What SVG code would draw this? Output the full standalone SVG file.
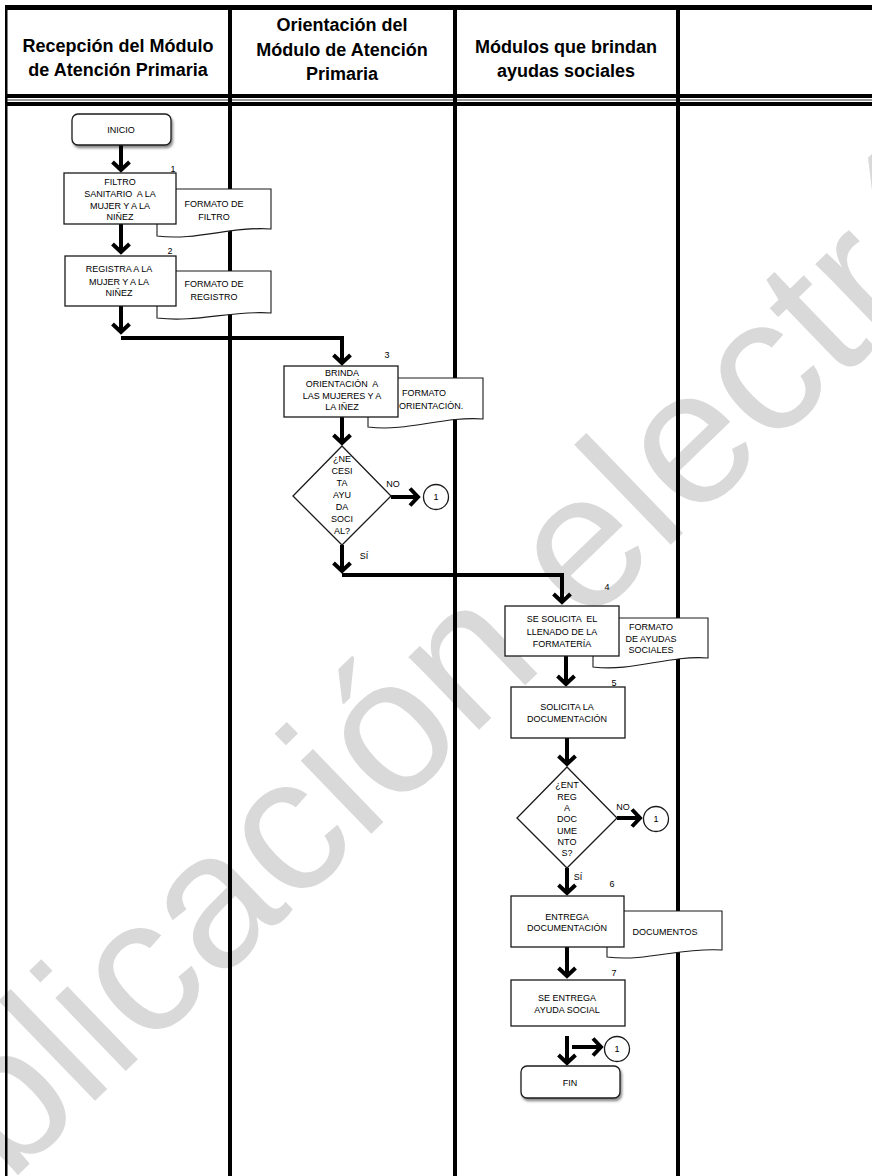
<svg xmlns="http://www.w3.org/2000/svg" width="872" height="1176" viewBox="0 0 872 1176">
<style>
.wm{font-family:"Liberation Sans",Arial,sans-serif;font-size:192px;fill:#d9d9d9}
.hd{font-family:"Liberation Sans",Arial,sans-serif;font-size:18px;font-weight:bold;fill:#000;text-anchor:middle}
.t{font-family:"Liberation Sans",Arial,sans-serif;font-size:9px;fill:#000;text-anchor:middle;white-space:pre}
.n{font-family:"Liberation Sans",Arial,sans-serif;font-size:9px;fill:#000;text-anchor:middle}
.box{fill:#fff;stroke:#1a1a1a;stroke-width:1.3}
.doc{fill:#fff;stroke:#1a1a1a;stroke-width:1.1}
.term{fill:#fff;stroke:#1a1a1a;stroke-width:1.3;filter:url(#sh)}
.arr{fill:none;stroke:#000;stroke-width:4;marker-end:url(#ah)}
.div{fill:#000}
</style>
<defs>
<marker id="ah" markerUnits="userSpaceOnUse" viewBox="-14 -12 18 24" refX="0" refY="0" markerWidth="18" markerHeight="24" orient="auto">
<path d="M-9,-8.5 L-1,0 L-9,8.5" fill="none" stroke="#000" stroke-width="4"/>
</marker>
<filter id="sh" x="-20%" y="-20%" width="140%" height="160%">
<feDropShadow dx="1.5" dy="2.5" stdDeviation="1.2" flood-color="#000" flood-opacity="0.45"/>
</filter>
</defs>
<rect width="872" height="1176" fill="#fff"/>
<text class="wm" x="-160" y="1347" transform="rotate(-44 -160 1347)">Publicación electrónica</text>
<g id="lanes">
<rect class="div" x="5" y="5" width="867" height="5"/>
<rect class="div" x="5" y="94" width="867" height="4"/>
<rect x="5" y="99" width="867" height="2" fill="#9a9a9a"/>
<rect class="div" x="5" y="102" width="867" height="4"/>
<rect class="div" x="5" y="5" width="2.5" height="1171"/>
<rect class="div" x="228" y="5" width="4" height="1171"/>
<rect class="div" x="453" y="5" width="4" height="1171"/>
<rect class="div" x="676" y="5" width="4" height="1171"/>
<text class="hd" x="118" y="52">Recepción del Módulo</text>
<text class="hd" x="118" y="76">de Atención Primaria</text>
<text class="hd" x="342" y="31">Orientación del</text>
<text class="hd" x="342" y="56">Módulo de Atención</text>
<text class="hd" x="342" y="80">Primaria</text>
<text class="hd" x="566" y="53">Módulos que brindan</text>
<text class="hd" x="566" y="77">ayudas sociales</text>
</g>
<g id="connectors">
<line class="arr" x1="121" y1="145" x2="121" y2="171"/>
<line class="arr" x1="121" y1="224" x2="121" y2="253"/>
<line class="arr" x1="121" y1="305" x2="121" y2="333"/>
<polyline class="arr" points="121,338 342,338 342,364"/>
<line class="arr" x1="342" y1="417" x2="342" y2="444"/>
<line class="arr" x1="391" y1="497" x2="419" y2="497"/>
<line class="arr" x1="342" y1="545" x2="342" y2="572"/>
<polyline class="arr" points="342,575 562,575 562,603"/>
<line class="arr" x1="566" y1="656" x2="566" y2="685"/>
<line class="arr" x1="567" y1="738" x2="567" y2="765"/>
<line class="arr" x1="617" y1="818" x2="641" y2="818"/>
<line class="arr" x1="567" y1="868" x2="567" y2="894"/>
<line class="arr" x1="567" y1="947" x2="567" y2="977"/>
<line class="arr" x1="567" y1="1036" x2="567" y2="1064"/>
<line class="arr" x1="572" y1="1047" x2="602" y2="1047"/>
<text class="n" x="393" y="487">NO</text>
<text class="n" x="364" y="559">SÍ</text>
<text class="n" x="623" y="810">NO</text>
<text class="n" x="578" y="880">SÍ</text>
</g>
<g id="inicio">
<rect class="term" x="72" y="114" width="99" height="31" rx="6"/>
<text class="t" x="121" y="133">INICIO</text>
</g>
<g id="doc1">
<path class="doc" d="M157,189 H271 V229 C231,226 197,241 157,236 Z"/>
<text class="t" x="214" y="207">FORMATO DE</text>
<text class="t" x="214" y="220">FILTRO</text>
</g>
<g id="step1">
<rect class="box" x="64" y="173" width="112" height="51"/>
<text class="n" x="173" y="172">1</text>
<text class="t" x="120" y="185">FILTRO</text>
<text class="t" x="120" y="197">SANITARIO  A LA</text>
<text class="t" x="120" y="209">MUJER Y A LA</text>
<text class="t" x="120" y="220">NIÑEZ</text>
</g>
<g id="doc2">
<path class="doc" d="M157,271 H271 V313 C231,310 197,323 157,318 Z"/>
<text class="t" x="214" y="287">FORMATO DE</text>
<text class="t" x="214" y="300">REGISTRO</text>
</g>
<g id="step2">
<rect class="box" x="65" y="256" width="111" height="50"/>
<text class="n" x="170" y="254">2</text>
<text class="t" x="119" y="272">REGISTRA A LA</text>
<text class="t" x="119" y="285">MUJER Y A LA</text>
<text class="t" x="119" y="296">NIÑEZ</text>
</g>
<g id="doc3">
<path class="doc" d="M368,378 H483 V419 C443,416 408,432 368,427 Z"/>
<text class="t" x="424" y="396">FORMATO</text>
<text class="t" x="399" y="409" style="text-anchor:start">ORIENTACIÒN.</text>
</g>
<g id="step3">
<rect class="box" x="284" y="366" width="114" height="51"/>
<text class="n" x="387" y="358">3</text>
<text class="t" x="342" y="376">BRINDA</text>
<text class="t" x="342" y="387">ORIENTACIÓN  A</text>
<text class="t" x="342" y="399">LAS MUJERES Y A</text>
<text class="t" x="342" y="410">LA IÑEZ</text>
</g>
<g id="decision1">
<polygon class="box" points="342,446 391,496 342,545 293,496"/>
<text class="t" x="342" y="462">¿NE</text>
<text class="t" x="342" y="474">CESI</text>
<text class="t" x="342" y="486">TA</text>
<text class="t" x="342" y="498">AYU</text>
<text class="t" x="342" y="510">DA</text>
<text class="t" x="342" y="522">SOCI</text>
<text class="t" x="342" y="534">AL?</text>
</g>
<g id="conn1a">
<circle class="box" cx="436" cy="497" r="12.5"/>
<text class="n" x="436" y="500">1</text>
</g>
<g id="doc4">
<path class="doc" d="M593,618 H708 V658 C668,655 633,672 593,667 Z"/>
<text class="t" x="651" y="630">FORMATO</text>
<text class="t" x="651" y="642">DE AYUDAS</text>
<text class="t" x="651" y="653">SOCIALES</text>
</g>
<g id="step4">
<rect class="box" x="505" y="606" width="114" height="50"/>
<text class="n" x="607" y="590">4</text>
<text class="t" x="562" y="622">SE SOLICITA  EL</text>
<text class="t" x="562" y="635">LLENADO DE LA</text>
<text class="t" x="562" y="647">FORMATERÍA</text>
</g>
<g id="step5">
<rect class="box" x="511" y="687" width="114" height="51"/>
<text class="n" x="614" y="686">5</text>
<text class="t" x="567" y="710">SOLICITA LA</text>
<text class="t" x="567" y="722">DOCUMENTACIÓN</text>
</g>
<g id="decision2">
<polygon class="box" points="567,767 617,818 567,868 517,818"/>
<text class="t" x="567" y="788">¿ENT</text>
<text class="t" x="567" y="800">REG</text>
<text class="t" x="567" y="811">A</text>
<text class="t" x="567" y="822">DOC</text>
<text class="t" x="567" y="834">UME</text>
<text class="t" x="567" y="845">NTO</text>
<text class="t" x="567" y="856">S?</text>
</g>
<g id="conn1b">
<circle class="box" cx="656" cy="819" r="12.5"/>
<text class="n" x="656" y="822">1</text>
</g>
<g id="doc6">
<path class="doc" d="M607,911 H722 V950 C682,947 647,962 607,957 Z"/>
<text class="t" x="665" y="935">DOCUMENTOS</text>
</g>
<g id="step6">
<rect class="box" x="511" y="896" width="113" height="51"/>
<text class="n" x="612" y="887">6</text>
<text class="t" x="567" y="920">ENTREGA</text>
<text class="t" x="567" y="931">DOCUMENTACIÓN</text>
</g>
<g id="step7">
<rect class="box" x="511" y="980" width="114" height="46"/>
<text class="n" x="614" y="976">7</text>
<text class="t" x="567" y="1001">SE ENTREGA</text>
<text class="t" x="567" y="1013">AYUDA SOCIAL</text>
</g>
<g id="conn1c">
<circle class="box" cx="617" cy="1049" r="12.5"/>
<text class="n" x="617" y="1052">1</text>
</g>
<g id="fin">
<rect class="term" x="521" y="1066" width="99" height="32" rx="6"/>
<text class="t" x="570" y="1086">FIN</text>
</g>
</svg>
